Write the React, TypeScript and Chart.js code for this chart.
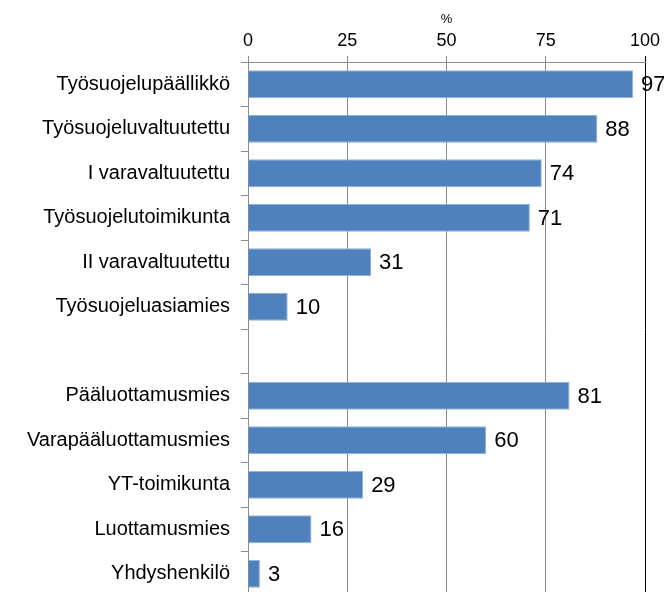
import React, { useEffect, useRef } from "react";
import { Chart, registerables } from "chart.js";

Chart.register(...registerables);

const categories = [
  "Työsuojelupäällikkö",
  "Työsuojeluvaltuutettu",
  "I varavaltuutettu",
  "Työsuojelutoimikunta",
  "II varavaltuutettu",
  "Työsuojeluasiamies",
  "",
  "Pääluottamusmies",
  "Varapääluottamusmies",
  "YT-toimikunta",
  "Luottamusmies",
  "Yhdyshenkilö",
];
const values: (number | null)[] = [97, 88, 74, 71, 31, 10, null, 81, 60, 29, 16, 3];
const tickValues = [0, 25, 50, 75, 100];
const axisTitle = "%";

const FONT = "'Liberation Sans', Arial, sans-serif";

const valueLabels = {
  id: "valueLabels",
  afterDatasetsDraw(chart: any) {
    const ctx = chart.ctx;
    const meta = chart.getDatasetMeta(0);
    ctx.save();
    ctx.font = `22px ${FONT}`;
    ctx.fillStyle = "#000";
    ctx.textAlign = "left";
    ctx.textBaseline = "middle";
    meta.data.forEach((bar: any, i: number) => {
      const v = values[i];
      if (v === null || v === undefined) return;
      ctx.fillText(String(v), bar.x + 8, bar.y + 1);
    });
    ctx.restore();
  },
};

const zeroPad = (scale: any) => {
  scale.paddingTop = 0;
  scale.paddingBottom = 0;
  scale.paddingLeft = 0;
  scale.paddingRight = 0;
};

export default function App() {
  const ref = useRef<HTMLCanvasElement>(null);
  useEffect(() => {
    if (!ref.current) return;
    const chart = new Chart(ref.current, {
      type: "bar",
      data: {
        labels: categories,
        datasets: [
          {
            data: values,
            backgroundColor: "#4f81bd",
            borderColor: "#8fb0d8",
            borderWidth: 1,
            barPercentage: 0.63,
            categoryPercentage: 1,
          },
        ],
      },
      options: {
        indexAxis: "y",
        responsive: false,
        animation: false,
        devicePixelRatio: 1,
        layout: { padding: { left: 0, right: 19, top: 0, bottom: 0 } },
        plugins: { legend: { display: false }, tooltip: { enabled: false } },
        scales: {
          x: {
            type: "linear",
            position: "top",
            min: 0,
            max: 100,
            afterBuildTicks: (scale: any) => {
              scale.ticks = tickValues.map((v) => ({ value: v }));
            },
            afterFit: (scale: any) => {
              scale.height = 62;
              zeroPad(scale);
            },
            title: {
              display: true,
              text: axisTitle,
              color: "#000",
              font: { family: FONT, size: 13 },
              padding: { top: 12, bottom: 0 },
            },
            ticks: {
              color: "#000",
              font: { family: FONT, size: 18 },
              padding: 4,
            },
            grid: {
              color: (c: any) => (c.tick && c.tick.value === 100 ? "#000" : "#8c8c8c"),
              lineWidth: 1,
              tickLength: 6,
            },
            border: { color: "#8c8c8c" },
          },
          y: {
            afterFit: (scale: any) => {
              scale.width = 248;
              zeroPad(scale);
            },
            ticks: {
              color: "#000",
              font: { family: FONT, size: 20 },
              padding: 11,
              autoSkip: false,
            },
            grid: {
              drawOnChartArea: false,
              color: "#8c8c8c",
              tickLength: 7,
              offset: true,
            },
            border: { color: "#8c8c8c" },
          },
        },
      },
      plugins: [valueLabels],
    });
    return () => chart.destroy();
  }, []);
  return (
    <div style={{ position: "fixed", left: 0, top: 0, width: 664, height: 596 }}>
      <canvas ref={ref} width={664} height={596} style={{ display: "block" }} />
    </div>
  );
}
